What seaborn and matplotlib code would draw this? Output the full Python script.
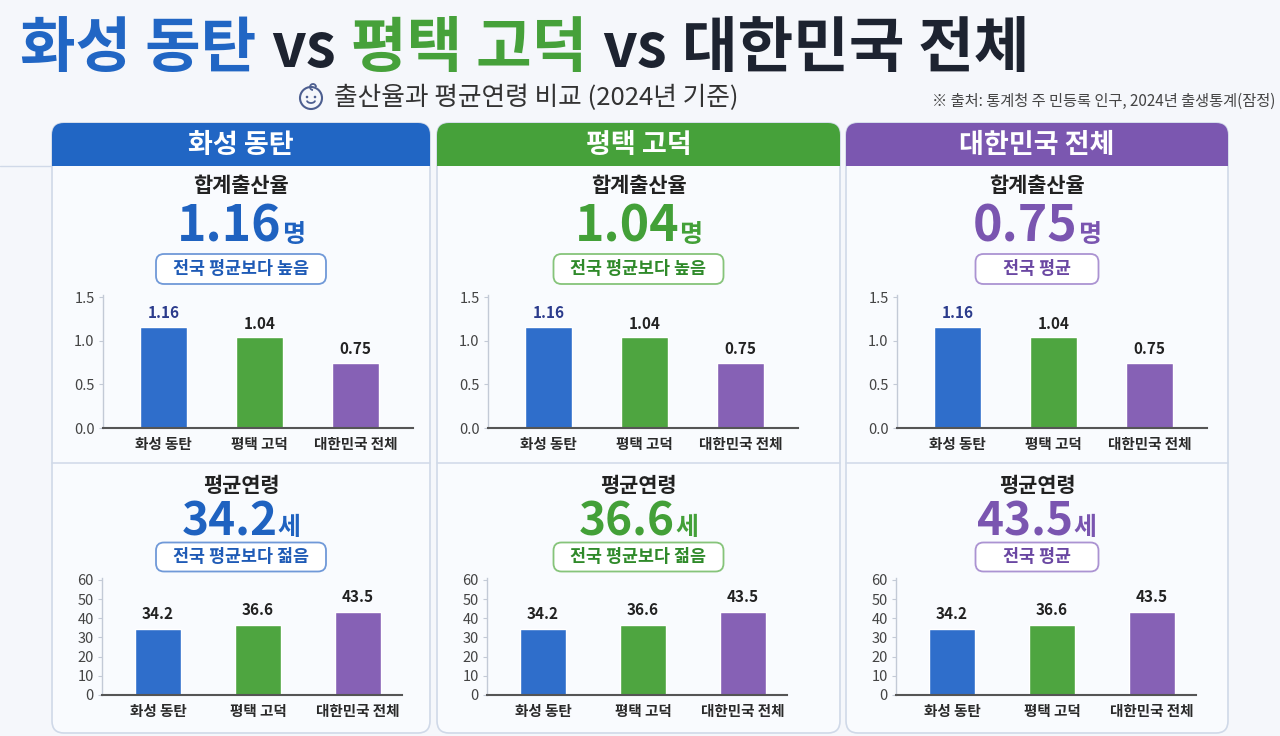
import matplotlib
matplotlib.use('Agg')
import matplotlib.pyplot as plt
import seaborn as sns
import pandas as pd
from matplotlib.patches import FancyBboxPatch, Rectangle, Circle, Arc

# ---------------- data ----------------
regions = ['화성 동탄', '평택 고덕', '대한민국 전체']
tfr = [1.16, 1.04, 0.75]            # 합계출산율 (명)
avg_age = [34.2, 36.6, 43.5]        # 평균연령 (세)
tfr_badges = ['전국 평균보다 높음', '전국 평균보다 높음', '전국 평균']
age_badges = ['전국 평균보다 젊음', '전국 평균보다 젊음', '전국 평균']
tfr_ticks = [0.0, 0.5, 1.0, 1.5]
age_ticks = [0, 10, 20, 30, 40, 50, 60]
title_parts = ['화성 동탄', 'vs', '평택 고덕', 'vs', '대한민국 전체']
subtitle = '출산율과 평균연령 비교 (2024년 기준)'
source = '※ 출처: 통계청 주 민등록 인구, 2024년 출생통계(잠정)'

# ---------------- style ----------------
BG = '#f5f7fb'
PANEL = '#f9fbfe'
EDGE = '#d0d9e8'
hdr_colors = ['#2166c4', '#46a13a', '#7b57b0']
num_colors = ['#1f62c0', '#43a038', '#7a55b0']
badge_txt = ['#1f5bb6', '#2f8a2a', '#6a47a2']
badge_edge = ['#7099d8', '#86c47a', '#ab93d2']
bar_colors = ['#2f6ecb', '#4ea540', '#8661b5']
val_label_colors = ['#2b3b8c', '#222222', '#222222']

sns.set_theme(style='white')
plt.rcParams['font.family'] = ['Noto Sans CJK KR', 'DejaVu Sans']

W, H = 1280, 736
fig = plt.figure(figsize=(12.8, 7.36), dpi=100, facecolor=BG)
ov = fig.add_axes([0, 0, 1, 1])
ov.set_xlim(0, W)
ov.set_ylim(H, 0)
ov.axis('off')
renderer = fig.canvas.get_renderer()


def seq_text(x, y, pieces, align='center', gap=0):
    texts = []
    for s, kw in pieces:
        t = ov.text(0, y, s, ha='left', va='baseline', **kw)
        texts.append(t)
    widths = [t.get_window_extent(renderer).width for t in texts]
    total = sum(widths) + gap * (len(texts) - 1)
    x0 = x - total / 2 if align == 'center' else x
    for t, w in zip(texts, widths):
        t.set_x(x0)
        x0 += w + gap
    return texts


def badge(cx, cy, text, tc, ec, h=30, min_w=123):
    t = ov.text(cx, cy, text, ha='center', va='center', fontsize=12.5,
                fontweight='bold', color=tc, zorder=5)
    tw = t.get_window_extent(renderer).width
    bw = max(tw + 34, min_w)
    ov.add_patch(FancyBboxPatch((cx - bw / 2, cy - h / 2), bw, h,
                                boxstyle='round,pad=0,rounding_size=8',
                                fc='white', ec=ec, lw=1.3, zorder=4))


# ---------------- title ----------------
title_colors = [hdr_colors[0], '#1d2330', hdr_colors[1], '#1d2330', '#1d2330']
seq_text(20, 67, [(p, dict(fontsize=43.5, fontweight=900, color=c))
                  for p, c in zip(title_parts, title_colors)],
         align='left', gap=15)

# subtitle + icon
ic = (311, 98)
ov.add_patch(Circle(ic, 11, fill=False, ec='#4d5f90', lw=1.5))
ov.add_patch(Circle((ic[0] - 4, ic[1] - 1), 1.3, fc='#4d5f90', ec='none'))
ov.add_patch(Circle((ic[0] + 4, ic[1] - 1), 1.3, fc='#4d5f90', ec='none'))
ov.add_patch(Arc((ic[0], ic[1] + 2.5), 8, 5, theta1=0, theta2=180, ec='#4d5f90', lw=1.3))
ov.add_patch(Arc((ic[0] + 2, ic[1] - 11), 6, 6, theta1=90, theta2=360, ec='#4d5f90', lw=1.3))
ov.text(334, 98, subtitle, ha='left', va='center', fontsize=18.5, color='#333333')
ov.text(1275, 101, source, ha='right', va='center', fontsize=11, color='#444444')

# ---------------- panels ----------------
lefts = [52, 437, 846]
rights = [430, 840, 1228]
TOP, HB, BOT, SEP = 123, 166, 733, 463

ov.plot([0, lefts[0]], [HB, HB], color=EDGE, lw=1)

for i in range(3):
    l, r = lefts[i], rights[i]
    cx = (l + r) / 2
    ov.add_patch(FancyBboxPatch((l, TOP), r - l, BOT - TOP,
                                boxstyle='round,pad=0,rounding_size=12',
                                fc=PANEL, ec=EDGE, lw=1.2, zorder=1))
    hdr = FancyBboxPatch((l, TOP), r - l, 80,
                         boxstyle='round,pad=0,rounding_size=12',
                         fc=hdr_colors[i], ec='none', zorder=2)
    ov.add_patch(hdr)
    clip = Rectangle((l - 2, TOP - 2), r - l + 4, HB - TOP + 2, transform=ov.transData)
    hdr.set_clip_path(clip)
    ov.plot([l, r], [SEP, SEP], color=EDGE, lw=1.1, zorder=3)

    ov.text(cx, 145, regions[i], ha='center', va='center', fontsize=19.5,
            fontweight='bold', color='white', zorder=5)

    # top section: TFR
    ov.text(cx, 186, '합계출산율', ha='center', va='center', fontsize=15,
            fontweight='bold', color='#222222', zorder=5)
    seq_text(cx, 242, [(f'{tfr[i]:.2f}', dict(fontsize=36, fontweight=900, color=num_colors[i])),
                       ('명', dict(fontsize=18, fontweight='bold', color=num_colors[i]))])
    badge(cx, 269, tfr_badges[i], badge_txt[i], badge_edge[i])

    # bottom section: age
    ov.text(cx, 485, '평균연령', ha='center', va='center', fontsize=15,
            fontweight='bold', color='#222222', zorder=5)
    seq_text(cx, 535, [(f'{avg_age[i]:.1f}', dict(fontsize=33, fontweight=900, color=num_colors[i])),
                       ('세', dict(fontsize=18, fontweight='bold', color=num_colors[i]))])
    badge(cx, 557, age_badges[i], badge_txt[i], badge_edge[i], h=29)

    # ---- TFR bar chart ----
    ax = fig.add_axes([(l + 51) / W, 1 - 428 / H, 310 / W, 133 / H])
    df = pd.DataFrame({'region': regions, 'value': tfr})
    sns.barplot(data=df, x='region', y='value', hue='region', palette=bar_colors,
                width=0.49, legend=False, ax=ax, saturation=1, order=regions, hue_order=regions)
    ax.set_xlim(-0.635, 2.6)
    ax.set_ylim(0, 1.523)
    ax.set_yticks(tfr_ticks)
    ax.set_yticklabels([f'{v:.1f}' for v in tfr_ticks])
    for cont, v, c in zip(ax.containers, tfr, val_label_colors):
        ax.bar_label(cont, labels=[f'{v:.2f}'], padding=4, fontsize=11,
                     fontweight='bold', color=c)
    # ---- age bar chart ----
    ax2 = fig.add_axes([(l + 50) / W, 1 - 695 / H, 300 / W, 117 / H])
    df2 = pd.DataFrame({'region': regions, 'value': avg_age})
    sns.barplot(data=df2, x='region', y='value', hue='region', palette=bar_colors,
                width=0.46, legend=False, ax=ax2, saturation=1, order=regions, hue_order=regions)
    ax2.set_xlim(-0.56, 2.44)
    ax2.set_ylim(0, 61)
    ax2.set_yticks(age_ticks)
    ax2.set_yticklabels([str(v) for v in age_ticks])
    for cont, v in zip(ax2.containers, avg_age):
        ax2.bar_label(cont, labels=[f'{v:.1f}'], padding=5, fontsize=11,
                      fontweight='bold', color='#222222')

    for a in (ax, ax2):
        a.patch.set_alpha(0)
        a.set_xlabel('')
        a.set_ylabel('')
        for s in ('top', 'right'):
            a.spines[s].set_visible(False)
        a.spines['left'].set_color('#c3cad6')
        a.spines['left'].set_linewidth(1)
        a.spines['bottom'].set_color('#555555')
        a.spines['bottom'].set_linewidth(1.5)
        a.tick_params(axis='y', length=3, width=0.8, color='#c3cad6', labelsize=10.5,
                      labelcolor='#444444', pad=3, left=True)
        a.tick_params(axis='x', length=0, labelsize=10.5, labelcolor='#2a2a2a', pad=6)
        for lab in a.get_xticklabels():
            lab.set_fontweight('bold')

fig.savefig('out.png', dpi=100, facecolor=BG)
